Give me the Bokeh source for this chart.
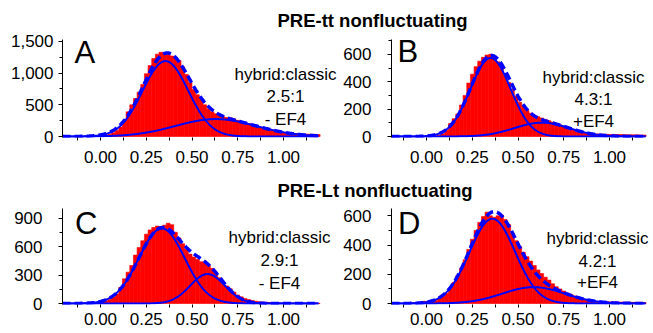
import numpy as np
from bokeh.plotting import figure
from bokeh.layouts import column, row
from bokeh.models import Range1d, FixedTicker, NumeralTickFormatter, Label
from bokeh.embed import file_html
from bokeh.resources import INLINE

# ---------------- data ----------------
bin_width = 0.02
bin_centers = np.round(-0.19 + bin_width * np.arange(70), 2)

hist_A = [0, 0, 0, 0, 0, 2, 3, 4, 6, 8,
          12, 20, 35, 60, 95, 150, 250, 390, 500, 600,
          700, 820, 990, 1120, 1230, 1300, 1330, 1320, 1300, 1270,
          1250, 1200, 1100, 980, 850, 740, 660, 600, 500, 440,
          390, 360, 330, 310, 300, 295, 275, 255, 240, 225,
          205, 185, 165, 145, 130, 115, 100, 90, 78, 70,
          62, 56, 50, 46, 43, 40, 38, 36, 34, 32]
hist_B = [0, 0, 0, 0, 0, 0, 1, 1, 2, 2,
          3, 4, 6, 10, 20, 45, 95, 130, 165, 230,
          300, 390, 455, 510, 550, 578, 595, 600, 575, 545,
          500, 450, 395, 345, 295, 250, 220, 190, 170, 155,
          145, 135, 125, 115, 105, 95, 85, 75, 65, 55,
          47, 40, 34, 28, 24, 21, 19, 18, 17, 16,
          15, 15, 14, 14, 13, 13, 12, 12, 11, 11]
hist_C = [0, 0, 0, 0, 0, 1, 2, 3, 5, 8,
          18, 28, 42, 65, 100, 170, 260, 330, 400, 510,
          590, 660, 730, 775, 800, 815, 810, 825, 845, 830,
          750, 690, 630, 570, 520, 490, 465, 440, 430, 400,
          370, 320, 270, 220, 185, 155, 120, 90, 70, 52,
          42, 32, 24, 18, 15, 12, 10, 8, 7, 6,
          5, 5, 4, 4, 3, 3, 3, 2, 2, 2]
hist_D = [0, 0, 0, 0, 2, 3, 5, 6, 8, 15,
          12, 15, 22, 35, 50, 70, 105, 145, 190, 240,
          300, 370, 440, 500, 555, 595, 625, 600, 590, 600,
          605, 575, 540, 480, 430, 390, 350, 320, 290, 260,
          230, 205, 180, 160, 135, 115, 100, 85, 72, 62,
          52, 43, 35, 28, 23, 19, 16, 14, 13, 12,
          11, 11, 10, 10, 9, 9, 8, 8, 8, 7]

# two-Gaussian fit parameters (hybrid, classic)
amp_A, mu_A, sig_A = [1190, 275], [0.355, 0.63], [0.125, 0.22]
amp_B, mu_B, sig_B = [573, 101], [0.35, 0.63], [0.11, 0.15]
amp_C, mu_C, sig_C = [790, 310], [0.335, 0.585], [0.125, 0.095]
amp_D, mu_D, sig_D = [580, 112], [0.36, 0.585], [0.125, 0.17]

x_ticks = [0.0, 0.25, 0.5, 0.75, 1.0]
x_minor = [-0.125, 0.125, 0.375, 0.625, 0.875, 1.125]
y_ticks_A, y_minor_A = [0, 500, 1000, 1500], [250, 750, 1250]
y_ticks_B, y_minor_B = [0, 200, 400, 600], [100, 300, 500, 700]
y_ticks_C, y_minor_C = [0, 300, 600, 900], [150, 450, 750]
y_ticks_D, y_minor_D = [0, 200, 400, 600], [100, 300, 500]

titles = ["PRE-tt nonfluctuating", "PRE-Lt nonfluctuating"]
letters = ["A", "B", "C", "D"]
notes = [["hybrid:classic", "2.5:1", "- EF4"],
         ["hybrid:classic", "4.3:1", "+EF4"],
         ["hybrid:classic", "2.9:1", "- EF4"],
         ["hybrid:classic", "4.2:1", "+EF4"]]

# ---------------- style / geometry ----------------
FONT = "Liberation Sans"
RED = "#ff0000"
BLUE = "#0000ff"
PPU = 183.0          # pixels per x unit
MID = 0.35           # "middle" anchor sits this many em above the baseline
TICK_FS = 17
NOTE_FS = 17
LETTER_FS = 31
TITLE_FS = 18.5


def gauss(xs, a, m, s):
    return a * np.exp(-(xs - m) ** 2 / (2.0 * s * s))


def make_panel(hist, amps, mus, sigs, y_end, y_ticks, y_minor, geo,
               ystand, xstand, letter, letter_px, note, note_cx, note_base):
    fl, ft, w, h, frl, frr, frt, frb, zero, draw_right = geo
    fh = frb - frt
    x0 = (frl - zero) / PPU
    x1 = (frr - zero) / PPU
    xd = (draw_right - zero) / PPU
    y0 = -y_end / fh  # one pixel below zero so the baseline line shows

    def dy(py):
        return y0 + (frb - py) * (y_end - y0) / fh

    def dx(px):
        return (px - zero) / PPU

    p = figure(width=w, height=h, x_range=Range1d(x0, x1), y_range=Range1d(y0, y_end),
               output_backend="svg", toolbar_location=None,
               min_border_left=frl - fl, min_border_right=fl + w - frr,
               min_border_top=frt - ft, min_border_bottom=ft + h - frb)
    p.outline_line_color = None
    p.grid.visible = False

    p.vbar(x=bin_centers, top=hist, width=bin_width,
           fill_color=RED, line_color=RED, line_width=0.6)

    xs = np.linspace(x0, xd, 600)
    c1 = gauss(xs, amps[0], mus[0], sigs[0])
    c2 = gauss(xs, amps[1], mus[1], sigs[1])
    p.line(xs, c1, line_color=BLUE, line_width=2)
    p.line(xs, c2, line_color=BLUE, line_width=2)
    p.line(xs, c1 + c2, line_color=BLUE, line_width=3.5, line_dash="8 4")

    xa = p.xaxis[0]
    xa.ticker = FixedTicker(ticks=x_ticks, minor_ticks=x_minor)
    xa.formatter = NumeralTickFormatter(format="0.00")
    xa.axis_line_color = None
    xa.major_tick_in = 0
    xa.major_tick_out = 3
    xa.minor_tick_in = 0
    xa.minor_tick_out = 3
    xa.major_tick_line_color = "black"
    xa.minor_tick_line_color = "black"
    xa.major_label_text_font = FONT
    xa.major_label_text_font_size = f"{TICK_FS}px"
    xa.major_label_text_color = "black"
    xa.major_label_standoff = xstand

    ya = p.yaxis[0]
    ya.ticker = FixedTicker(ticks=y_ticks, minor_ticks=y_minor)
    ya.formatter = NumeralTickFormatter(format="0,0")
    ya.axis_line_color = "black"
    ya.axis_line_width = 1
    ya.major_tick_in = 0
    ya.major_tick_out = 4
    ya.minor_tick_in = 0
    ya.minor_tick_out = 3
    ya.major_tick_line_color = "black"
    ya.minor_tick_line_color = "black"
    ya.major_label_text_font = FONT
    ya.major_label_text_font_size = f"{TICK_FS}px"
    ya.major_label_text_color = "black"
    ya.major_label_standoff = ystand

    lx, lb = letter_px
    p.add_layout(Label(x=dx(lx), y=dy(lb - MID * LETTER_FS), text=letter,
                       text_font=FONT, text_font_size=f"{LETTER_FS}px",
                       text_color="black", text_align="left", text_baseline="middle"))
    for t, b in zip(note, note_base):
        p.add_layout(Label(x=dx(note_cx), y=dy(b - MID * NOTE_FS), text=t,
                           text_font=FONT, text_font_size=f"{NOTE_FS}px",
                           text_color="black", text_align="center", text_baseline="middle"))
    return p


def title_fig(text, height, base_px, cx):
    p = figure(width=653, height=height, x_range=Range1d(0, 653),
               y_range=Range1d(height, 0), output_backend="svg",
               toolbar_location=None, min_border=0,
               x_axis_type=None, y_axis_type=None)
    p.outline_line_color = None
    p.grid.visible = False
    p.add_layout(Label(x=cx, y=base_px - MID * TITLE_FS, text=text,
                       text_font=FONT, text_font_size=f"{TITLE_FS}px",
                       text_font_style="bold", text_color="black",
                       text_align="center", text_baseline="middle"))
    return p


# geometry: fig_left, fig_top, width, height, frame_l, frame_r, frame_t, frame_b, x0_px, draw_right
geo_A = (0, 31, 340, 140, 62, 340, 39, 137, 100, 318)
geo_B = (340, 31, 313, 140, 391, 653, 39, 137, 426, 645)
geo_C = (0, 201, 340, 130, 62, 340, 208, 304, 100, 318)
geo_D = (340, 201, 313, 130, 391, 653, 208, 304, 426, 645)

pA = make_panel(hist_A, amp_A, mu_A, sig_A, 1531, y_ticks_A, y_minor_A, geo_A, 5, 10,
                letters[0], (74, 62.5), notes[0], 285, [79.5, 102, 124.5])
pB = make_panel(hist_B, amp_B, mu_B, sig_B, 708, y_ticks_B, y_minor_B, geo_B, 16, 10,
                letters[1], (397, 61.5), notes[1], 593, [82.5, 104.5, 127])
pC = make_panel(hist_C, amp_C, mu_C, sig_C, 1000, y_ticks_C, y_minor_C, geo_C, 16, 5,
                letters[2], (74.5, 234), notes[2], 279, [242.5, 265.5, 288.5])
pD = make_panel(hist_D, amp_D, mu_D, sig_D, 650, y_ticks_D, y_minor_D, geo_D, 16, 5,
                letters[3], (397.5, 233.5), notes[3], 597, [243.5, 266.5, 288])

t1 = title_fig(titles[0], 31, 26.5, 372)
t2 = title_fig(titles[1], 30, 25, 374.5)

layout = column(t1, row(pA, pB), t2, row(pC, pD))

open("out.html", "w").write(file_html(layout, INLINE))
